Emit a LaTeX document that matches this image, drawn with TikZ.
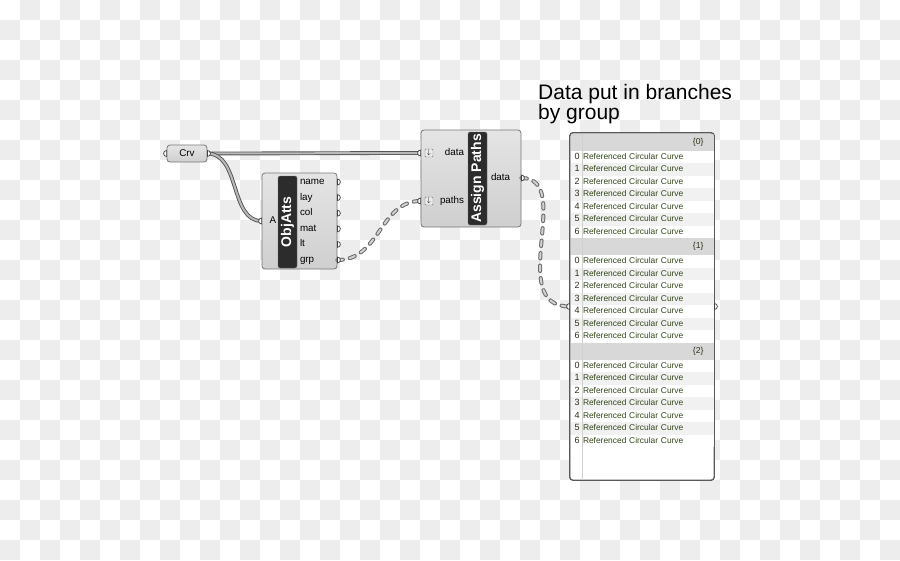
\documentclass[tikz,border=0pt]{standalone}
\usepackage{fontspec}
\setmainfont{Liberation Sans}
\usetikzlibrary{shapes.geometric, arrows}

\definecolor{checker}{HTML}{EDEDED}
\definecolor{compfill}{HTML}{CFCFCF}
\definecolor{compedge}{HTML}{777777}
\definecolor{barfill}{HTML}{2C2C2C}
\definecolor{wireedge}{HTML}{555555}
\definecolor{wirefill}{HTML}{B8B8B8}
\definecolor{bandfill}{HTML}{D8D8D8}
\definecolor{rowshade}{HTML}{F1F1F1}
\definecolor{itemtext}{HTML}{33471A}
\definecolor{indextext}{HTML}{2E2E1C}

\tikzstyle{component} = [rectangle, rounded corners=3pt, draw=compedge, line width=0.8pt, top color=compfill!55!white, bottom color=compfill, inner sep=0pt]
\tikzstyle{namebar} = [rectangle, rounded corners=2pt, draw=black!55, fill=barfill, text=white, font=\bfseries\fontsize{14}{14}\selectfont, rotate=90, inner sep=0pt]
\tikzstyle{port} = [inner sep=0pt, text height=7pt, text depth=2pt, font=\fontsize{9.8}{10}\selectfont]
\tikzstyle{outport} = [port, text width=30pt, align=left, node distance=15.6pt]
\tikzstyle{inport} = [port, text width=25pt, align=right]
\tikzstyle{grip} = [draw=black!75, fill=white, line width=0.7pt]
\tikzstyle{flag} = [rectangle, rounded corners=1pt, draw=compedge, fill=white!92!black, minimum size=8pt, inner sep=0pt, font=\fontsize{7}{7}\selectfont]
\tikzstyle{wire} = [draw=wireedge, line width=0.9pt, double=wirefill, double distance=2pt]
\tikzstyle{treewire} = [draw=black!58, line width=1pt, double=white!82!black, double distance=2pt, dash pattern=on 5.5pt off 7pt, line cap=round]
\tikzstyle{panel} = [rectangle, rounded corners=3pt, draw=black!65, line width=0.8pt, fill=white, minimum width=144pt, minimum height=347pt]
\tikzstyle{panelborder} = [draw=black!65, line width=0.8pt, rounded corners=3pt]
\tikzstyle{branch} = [rectangle, fill=bandfill, minimum width=143pt, minimum height=17pt, text width=123pt, inner xsep=10pt, inner ysep=0pt, align=right, font=\fontsize{8.6}{9}\selectfont, text height=6.5pt, text depth=2pt, text=indextext]
\tikzstyle{item} = [rectangle, fill=white, minimum width=143pt, minimum height=12.5pt, text width=135pt, inner xsep=4pt, inner ysep=0pt, align=left, font=\fontsize{8.4}{9}\selectfont, text height=6.5pt, text depth=2pt, text=itemtext]
\tikzstyle{itemalt} = [item, fill=rowshade]
\tikzstyle{heading} = [inner sep=0pt, font=\fontsize{21}{21}\selectfont]

\newcommand{\idx}[1]{\makebox[8.5pt][l]{\color{indextext}\fontsize{9}{9}\selectfont#1}}
\newcommand{\refcurve}{Referenced Circular Curve}
\newcommand{\gripout}[1]{\draw[grip] (#1) ++(0pt,3pt) arc[start angle=90, end angle=-90, radius=3pt] -- cycle;}
\newcommand{\gripin}[1]{\draw[grip] (#1) ++(0pt,3pt) arc[start angle=90, end angle=270, radius=3pt] -- cycle;}

\begin{document}
\begin{tikzpicture}[x=1pt, y=-1pt, node distance=12.5pt]

% background
\useasboundingbox (0,0) rectangle (900,560);
\fill[white] (0,0) rectangle (900,560);
\foreach \i in {0,...,44}
  \foreach \j in {0,...,27} {
    \pgfmathtruncatemacro{\chk}{mod(\i+\j,2)}
    \ifnum\chk=1 \fill[checker] (20*\i,20*\j) rectangle ++(20,20); \fi
  }

% title
\node (title) [heading, anchor=base west] at (538,99.5) {Data put in branches};
\node (subtitle) [heading, anchor=base west] at (538,119.5) {by group};

% Crv
\node (crv) [component, minimum width=40pt, minimum height=17pt, font=\fontsize{9.8}{10}\selectfont] at (187,153.5) {Crv};

% ObjAtts
\node (objatts) [component, minimum width=75pt, minimum height=96pt] at (299.5,221) {};
\node (objbar) [namebar, minimum width=92pt, minimum height=19pt] at (287.5,222) {ObjAtts};
\node (objin) [port] at (273,221) {A};
\node (name) [outport] at (315,182) {name};
\node (lay) [outport, below of=name] {lay};
\node (col) [outport, below of=lay] {col};
\node (mat) [outport, below of=col] {mat};
\node (lt) [outport, below of=mat] {lt};
\node (grp) [outport, below of=lt] {grp};

% Assign Paths
\node (assign) [component, minimum width=100pt, minimum height=97pt] at (471,178.5) {};
\node (assignbar) [namebar, minimum width=93pt, minimum height=19pt] at (477.5,178.5) {Assign Paths};
\node (datain) [inport] at (451.5,153) {data};
\node (pathsin) [inport, below of=datain, node distance=48pt] {paths};
\node (dataflag) [flag] at (429,153) {$\downarrow$};
\node (pathsflag) [flag, below of=dataflag, node distance=48pt] {$\downarrow$};
\node (dataout) [outport, text width=24pt] at (503,178) {data};

% panel
\node (panel) [panel] at (642,306.5) {};
\node (b0) [branch] at (642,142) {\{0\}};
\node (r00) [item, below of=b0, node distance=14.75pt] {\idx{0}\refcurve};
\node (r01) [itemalt, below of=r00] {\idx{1}\refcurve};
\node (r02) [item, below of=r01] {\idx{2}\refcurve};
\node (r03) [itemalt, below of=r02] {\idx{3}\refcurve};
\node (r04) [item, below of=r03] {\idx{4}\refcurve};
\node (r05) [itemalt, below of=r04] {\idx{5}\refcurve};
\node (r06) [item, below of=r05] {\idx{6}\refcurve};
\node (b1) [branch, below of=r06, node distance=14.75pt] {\{1\}};
\node (r10) [item, below of=b1, node distance=14.75pt] {\idx{0}\refcurve};
\node (r11) [itemalt, below of=r10] {\idx{1}\refcurve};
\node (r12) [item, below of=r11] {\idx{2}\refcurve};
\node (r13) [itemalt, below of=r12] {\idx{3}\refcurve};
\node (r14) [item, below of=r13] {\idx{4}\refcurve};
\node (r15) [itemalt, below of=r14] {\idx{5}\refcurve};
\node (r16) [item, below of=r15] {\idx{6}\refcurve};
\node (b2) [branch, below of=r16, node distance=14.75pt] {\{2\}};
\node (r20) [item, below of=b2, node distance=14.75pt] {\idx{0}\refcurve};
\node (r21) [itemalt, below of=r20] {\idx{1}\refcurve};
\node (r22) [item, below of=r21] {\idx{2}\refcurve};
\node (r23) [itemalt, below of=r22] {\idx{3}\refcurve};
\node (r24) [item, below of=r23] {\idx{4}\refcurve};
\node (r25) [itemalt, below of=r24] {\idx{5}\refcurve};
\node (r26) [item, below of=r25] {\idx{6}\refcurve};
\draw [black!18] (582,134) -- (582,479.5);
\draw [panelborder] (panel.north west) rectangle (panel.south east);

% wires
\draw [wire] (crv.east) .. controls +(40,0) and +(-40,0) .. (assign.west |- datain);
\draw [wire] (crv.east) .. controls +(33,0) and +(-32,0) .. (objatts.west |- objin);
\draw [treewire] (objatts.east |- grp) .. controls +(43,0) and +(-41,0) .. (assign.west |- pathsin);
\draw [treewire] (assign.east |- dataout) .. controls +(54,0) and +(-65,0) .. (panel.west);

% grips
\gripin{crv.west}
\gripout{crv.east}
\gripin{objatts.west |- objin}
\gripout{objatts.east |- name}
\gripout{objatts.east |- lay}
\gripout{objatts.east |- col}
\gripout{objatts.east |- mat}
\gripout{objatts.east |- lt}
\gripout{objatts.east |- grp}
\gripin{assign.west |- datain}
\gripin{assign.west |- pathsin}
\gripout{assign.east |- dataout}
\gripin{panel.west}
\gripout{panel.east}

\end{tikzpicture}
\end{document}
